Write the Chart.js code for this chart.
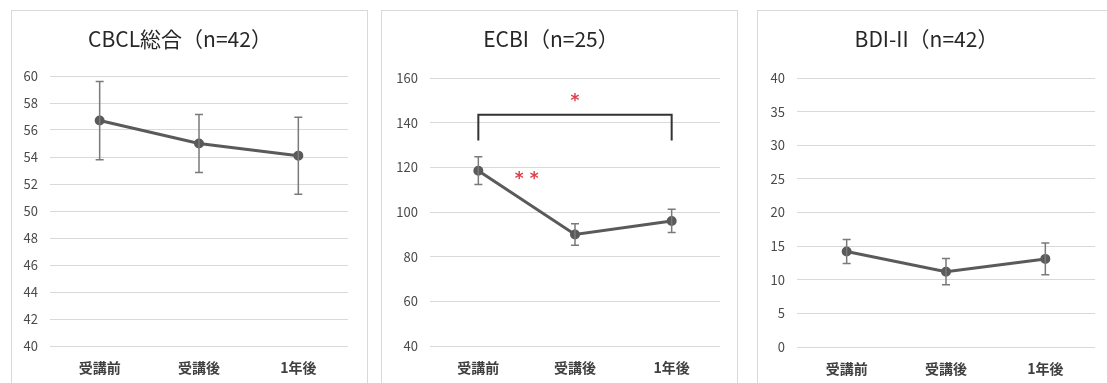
<!DOCTYPE html>
<html>
<head>
<meta charset="utf-8">
<script src="https://cdn.jsdelivr.net/npm/chart.js@4"></script>
<style>
  html, body { margin: 0; padding: 0; background: #fff; overflow: hidden; }
  body { width: 1107px; height: 383px; position: relative; }
  .panel { position: absolute; top: 10px; height: 390px; border: 1px solid #d9d9d9; box-sizing: border-box; background: #fff; }
  .panel canvas { display: block; }
</style>
</head>
<body>
<div class="panel" id="p1" style="left:11px;width:357px;"><canvas id="c1"></canvas></div>
<div class="panel" id="p2" style="left:381px;width:357px;"><canvas id="c2"></canvas></div>
<div class="panel" id="p3" style="left:757px;width:352px;"><canvas id="c3"></canvas></div>
<script>
const categories = ['受講前', '受講後', '1年後'];

const cbclTitle = 'CBCL総合（n=42）';
const cbclMeans = [56.7, 55.0, 54.1];
const cbclErrors = [2.9, 2.15, 2.85];
const cbclTicks = [40, 60, 2];

const ecbiTitle = 'ECBI（n=25）';
const ecbiMeans = [118.5, 89.9, 96.0];
const ecbiErrors = [6.2, 4.8, 5.2];
const ecbiTicks = [40, 160, 20];

const bdiTitle = 'BDI-II（n=42）';
const bdiMeans = [14.2, 11.2, 13.1];
const bdiErrors = [1.8, 1.95, 2.35];
const bdiTicks = [0, 40, 5];

// significance marks for ECBI: bracket between first and last, asterisks
const ecbiBracket = [0, 2, 143.5, 132];   // from, to, top value, bottom value
const ecbiStars = [
  { text: '*', x: 1, y: 151 },
  { text: '* *', x: 0.5, y: 116 }
];

const errorBars = {
  id: 'errorBars',
  afterDatasetsDraw(chart) {
    const errs = chart.options.plugins.errorBars.errors;
    if (!errs) return;
    const { ctx, scales: { x, y } } = chart;
    const data = chart.data.datasets[0].data;
    ctx.save();
    ctx.strokeStyle = '#7a7a7a';
    ctx.lineWidth = 1.5;
    data.forEach((v, i) => {
      const px = x.getPixelForValue(i);
      const top = y.getPixelForValue(v + errs[i]);
      const bot = y.getPixelForValue(v - errs[i]);
      ctx.beginPath();
      ctx.moveTo(px, top); ctx.lineTo(px, bot);
      ctx.moveTo(px - 4, top); ctx.lineTo(px + 4, top);
      ctx.moveTo(px - 4, bot); ctx.lineTo(px + 4, bot);
      ctx.stroke();
    });
    ctx.restore();
  }
};

const sigMarks = {
  id: 'sigMarks',
  afterDatasetsDraw(chart) {
    const opts = chart.options.plugins.sigMarks;
    if (!opts.bracket) return;
    const { ctx, scales: { x, y } } = chart;
    const [from, to, topV, botV] = opts.bracket;
    const x1 = x.getPixelForValue(from), x2 = x.getPixelForValue(to);
    const yt = y.getPixelForValue(topV), yb = y.getPixelForValue(botV);
    ctx.save();
    ctx.strokeStyle = '#333';
    ctx.lineWidth = 2;
    ctx.beginPath();
    ctx.moveTo(x1, yb); ctx.lineTo(x1, yt); ctx.lineTo(x2, yt); ctx.lineTo(x2, yb);
    ctx.stroke();
    ctx.fillStyle = '#e0404c';
    ctx.font = 'bold 17px "DejaVu Sans"';
    ctx.textAlign = 'center';
    ctx.textBaseline = 'middle';
    opts.stars.forEach(s => {
      const px = x.getPixelForValue(0) + (x.getPixelForValue(1) - x.getPixelForValue(0)) * s.x;
      ctx.fillText(s.text, px, y.getPixelForValue(s.y) + 3);
    });
    ctx.restore();
  }
};

function makeChart(id, title, means, errors, ticks, area, extra) {
  const panel = document.getElementById(id).parentNode;
  const w = panel.clientWidth, h = panel.clientHeight;
  const cv = document.getElementById(id);
  cv.width = w; cv.height = h;
  cv.style.width = w + 'px'; cv.style.height = h + 'px';
  return new Chart(cv, {
    type: 'line',
    data: {
      labels: categories,
      datasets: [{
        data: means,
        borderColor: '#5a5a5a',
        backgroundColor: '#5a5a5a',
        borderWidth: 3,
        pointRadius: 3.5,
        pointBackgroundColor: '#5a5a5a',
        pointBorderColor: '#5a5a5a',
        tension: 0
      }]
    },
    options: {
      responsive: false,
      animation: false,
      layout: { padding: { left: 0, right: area.right, top: 0, bottom: 0 } },
      scales: {
        x: {
          offset: true,
          grid: { display: false, drawTicks: false },
          border: { display: false },
          ticks: { padding: 13, color: '#404040', font: { family: '"Noto Sans CJK JP"', size: 14, weight: 'bold' } },
          afterFit(s) { s.height = h - area.bottom; }
        },
        y: {
          min: ticks[0], max: ticks[1],
          grid: { color: '#d9d9d9', lineWidth: 1, drawTicks: false },
          border: { display: false },
          ticks: { stepSize: ticks[2], padding: 12, color: '#4a4a4a', font: { family: '"Noto Sans CJK JP"', size: 13 } },
          afterFit(s) { s.width = area.left; }
        }
      },
      plugins: {
        legend: { display: false },
        tooltip: { enabled: false },
        title: {
          display: true, text: title, color: '#262626',
          font: { family: '"Noto Sans CJK JP"', size: 21, weight: 'normal', lineHeight: 1.2 },
          padding: { top: 15, bottom: area.top - 15 - 25.2 }
        },
        errorBars: { errors: errors },
        sigMarks: extra || {}
      }
    },
    plugins: [errorBars, sigMarks]
  });
}

makeChart('c1', cbclTitle, cbclMeans, cbclErrors, cbclTicks, { left: 38, right: 19, top: 65, bottom: 335 });
makeChart('c2', ecbiTitle, ecbiMeans, ecbiErrors, ecbiTicks, { left: 48, right: 17, top: 67, bottom: 335 }, { bracket: ecbiBracket, stars: ecbiStars });
makeChart('c3', bdiTitle, bdiMeans, bdiErrors, bdiTicks, { left: 39, right: 13, top: 67, bottom: 336 });
</script>
</body>
</html>
